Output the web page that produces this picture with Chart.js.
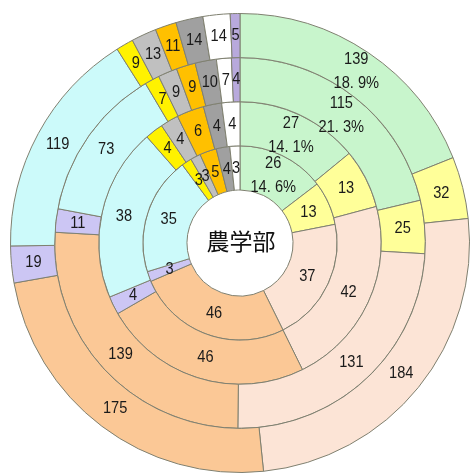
<!DOCTYPE html>
<html>
<head>
<meta charset="utf-8">
<script src="https://cdn.jsdelivr.net/npm/chart.js@4.4.1/dist/chart.umd.min.js"></script>
<style>
  html, body { margin: 0; padding: 0; background: #ffffff; }
  #wrap { width: 471px; height: 474px; }
</style>
</head>
<body>
<div id="wrap"><canvas id="rings" width="471" height="474"></canvas></div>
<script>
const canvas = document.getElementById("rings");

// Categories, clockwise from the top
const categories = ["区分1", "区分2", "区分3", "区分4", "区分5", "区分6", "区分7", "区分8", "区分9", "区分10", "区分11", "区分12"];

// One array per ring, outermost first
const ring4 = [139, 32, 184, 175, 19, 119, 9, 13, 11, 14, 14, 5];
const ring3 = [115, 25, 131, 139, 11, 73, 7, 9, 9, 10, 7, 4];
const ring2 = [27, 13, 42, 46, 4, 38, 4, 4, 6, 4, 4, 0];
const ring1 = [26, 13, 37, 46, 3, 35, 3, 3, 5, 4, 3, 0];

const centerText = "農学部";

// Slice colours, same order as categories
const sliceColors = ["#c8f5cc", "#ffff99", "#fce4d6", "#fbc896", "#ccc6f4", "#ccfafa",
                     "#fff200", "#c0c0c0", "#ffc000", "#a0a0a0", "#ffffff", "#b8a9dc"];

const labelFont = "17px 'Liberation Sans', Arial, sans-serif";

// Narrow text, like the original's condensed digits
const drawNarrow = (ctx, text, x, y) => {
    ctx.save();
    ctx.translate(x, y);
    ctx.scale(0.86, 1);
    ctx.fillText(text, 0, 0);
    ctx.restore();
};

// Draws the value inside each slice, plus the share of the first slice
const sliceLabels = {
    id: "sliceLabels",
    afterDatasetsDraw(chart) {
        const ctx = chart.ctx;
        ctx.save();
        ctx.font = labelFont;
        ctx.fillStyle = "#1a1a1a";
        ctx.textAlign = "center";
        ctx.textBaseline = "middle";
        chart.data.datasets.forEach((ds, di) => {
            const meta = chart.getDatasetMeta(di);
            const total = ds.data.reduce((a, b) => a + b, 0);
            meta.data.forEach((arc, i) => {
                const v = ds.data[i];
                if (!v) return;
                const p = arc.tooltipPosition();
                if (i === 0) {
                    const pct = (v / total * 100).toFixed(1).replace(".", ". ") + "%";
                    drawNarrow(ctx, String(v), p.x, p.y - 12);
                    drawNarrow(ctx, pct, p.x, p.y + 12);
                } else {
                    drawNarrow(ctx, String(v), p.x, p.y);
                }
            });
        });
        // Text in the hole
        const c = chart.getDatasetMeta(0).data[0];
        ctx.font = "23px 'Noto Sans CJK JP', sans-serif";
        ctx.fillStyle = "#111";
        ctx.fillText(centerText, c.x + 1, c.y - 2);
        ctx.restore();
    },
};

const makeRing = (label, values) => ({
    label: label,
    data: values,
    backgroundColor: sliceColors,
    borderColor: "#7f8070",
    borderWidth: 1,
    hoverOffset: 0,
});

new Chart(canvas, {
    type: "doughnut",
    plugins: [sliceLabels],
    data: {
        labels: categories,
        datasets: [
            makeRing("ring4", ring4),
            makeRing("ring3", ring3),
            makeRing("ring2", ring2),
            makeRing("ring1", ring1),
        ],
    },
    options: {
        responsive: false,
        animation: false,
        cutout: 53,
        layout: { padding: { left: 10, right: 1, top: 13, bottom: 1 } },
        plugins: {
            legend: { display: false },
            tooltip: { enabled: false },
        },
    },
});
</script>
</body>
</html>
